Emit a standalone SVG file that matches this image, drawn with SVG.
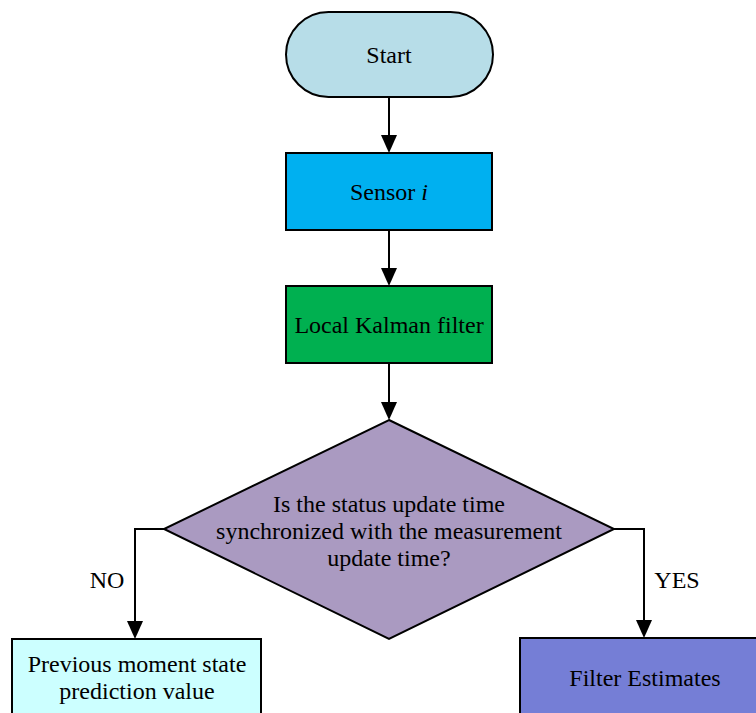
<svg xmlns="http://www.w3.org/2000/svg" width="756" height="713" viewBox="0 0 756 713">
<style>
.s{stroke:#000;stroke-width:2}
text{font-family:"Liberation Serif","Times New Roman",serif;font-size:24px;fill:#000;text-anchor:middle;dominant-baseline:central}
.c{fill:none;stroke:#000;stroke-width:2}
</style>
<rect width="756" height="713" fill="#fff"/>
<g id="connectors">
<path class="c" d="M389,97 V135"/><path d="M381,135 L397,135 L389,153 Z"/>
<path class="c" d="M389,230 V268"/><path d="M381,268 L397,268 L389,286 Z"/>
<path class="c" d="M389,363 V402"/><path d="M381,402 L397,402 L389,420 Z"/>
<path class="c" d="M164,529 H135 V621"/><path d="M127,621 L143,621 L135,639 Z"/>
<path class="c" d="M614,529 H644 V620"/><path d="M636,620 L652,620 L644,638 Z"/>
<text x="107" y="580">NO</text>
<text x="677" y="580">YES</text>
</g>
<g id="start">
<rect class="s" x="286" y="12" width="207" height="85" rx="42.5" fill="#B7DDE8"/>
<text x="389" y="55">Start</text>
</g>
<g id="sensor">
<rect class="s" x="286" y="153" width="206" height="77" fill="#00B0F0"/>
<text x="389" y="192">Sensor <tspan font-style="italic">i</tspan></text>
</g>
<g id="kalman">
<rect class="s" x="286" y="286" width="206" height="77" fill="#00B050"/>
<text x="389" y="325">Local Kalman filter</text>
</g>
<g id="decision">
<polygon class="s" points="389,420 614,529 389,639 164,529" fill="#AA9AC1"/>
<text x="389" y="504">Is the status update time</text>
<text x="389" y="531">synchronized with the measurement</text>
<text x="389" y="558">update time?</text>
</g>
<g id="previous">
<rect class="s" x="12" y="639" width="249" height="90" fill="#CCFFFF"/>
<text x="137" y="664">Previous moment state</text>
<text x="137" y="691">prediction value</text>
</g>
<g id="estimates">
<rect class="s" x="520" y="638" width="250" height="90" fill="#757ED6"/>
<text x="645" y="678">Filter Estimates</text>
</g>
</svg>
